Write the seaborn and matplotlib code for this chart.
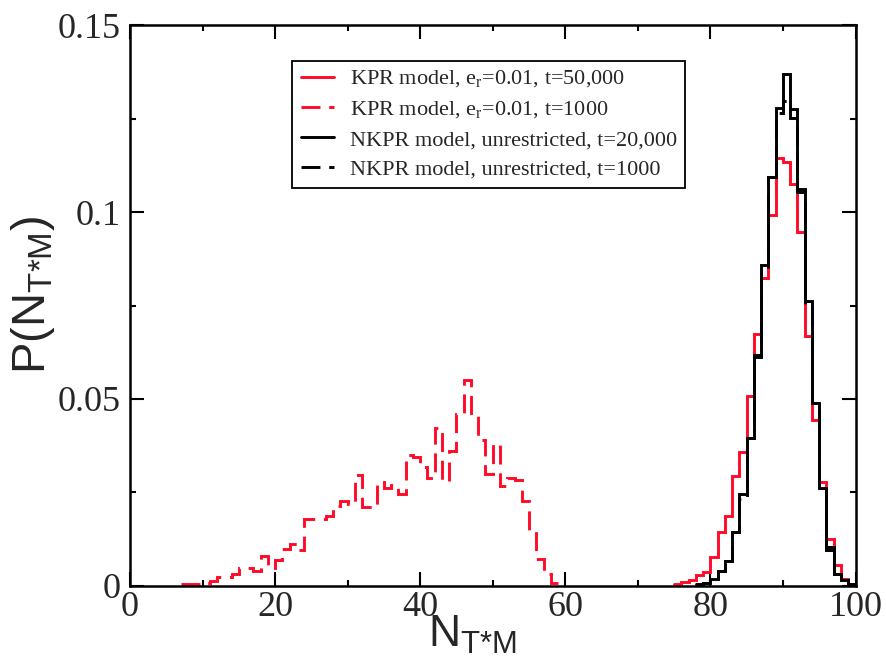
import numpy as np
import pandas as pd
import matplotlib
matplotlib.use("Agg")
import matplotlib.pyplot as plt
import seaborn as sns
from matplotlib.ticker import MultipleLocator, FixedLocator, FixedFormatter

# ---------------- data (unit-width bins, given by first left edge) ----------------
kpr_long_first_bin = 75          # KPR model, e_r=0.01, t=50,000
kpr_long_values = [0.0005, 0.0010, 0.0015, 0.0027, 0.0036, 0.0076, 0.0143, 0.0185,
                   0.0294, 0.0358, 0.0508, 0.0675, 0.0824, 0.0992, 0.1145, 0.1134,
                   0.1075, 0.0947, 0.0668, 0.0444, 0.0277, 0.0125, 0.0054, 0.0018,
                   0.0005]

kpr_short_first_bin = 7          # KPR model, e_r=0.01, t=1000
kpr_short_values = [0.0003, 0.0004, 0.0005, 0.0007, 0.0013, 0.0022, 0.0022, 0.0030,
                    0.0047, 0.0047, 0.0039, 0.0080, 0.0047, 0.0069, 0.0098, 0.0112,
                    0.0095, 0.0177, 0.0179, 0.0177, 0.0186, 0.0213, 0.0226, 0.0218,
                    0.0295, 0.0210, 0.0210, 0.0277, 0.0262, 0.0268, 0.0244, 0.0350,
                    0.0343, 0.0317, 0.0287, 0.0422, 0.0280, 0.0360, 0.0459, 0.0551,
                    0.0461, 0.0390, 0.0300, 0.0378, 0.0266, 0.0287, 0.0282, 0.0227,
                    0.0146, 0.0071, 0.0032, 0.0008]

nkpr_long_first_bin = 78         # NKPR model, unrestricted, t=20,000
nkpr_long_values = [0.0003, 0.0008, 0.0018, 0.0040, 0.0067, 0.0143, 0.0246, 0.0394,
                    0.0612, 0.0858, 0.1095, 0.1279, 0.1371, 0.1277, 0.1062, 0.0762,
                    0.0488, 0.0260, 0.0103, 0.0031, 0.0015, 0.0003]

nkpr_short_first_bin = 78        # NKPR model, unrestricted, t=1000
nkpr_short_values = [0.0003, 0.0008, 0.0018, 0.0040, 0.0067, 0.0143, 0.0233, 0.0394,
                     0.0618, 0.0842, 0.1095, 0.1265, 0.1299, 0.1252, 0.1055, 0.0753,
                     0.0488, 0.0260, 0.0096, 0.0031, 0.0015, 0.0003]

legend_labels = [r"KPR model, e$_\mathregular{r}$=0.01, t=50,000",
                 r"KPR model, e$_\mathregular{r}$=0.01, t=1000",
                 "NKPR model, unrestricted, t=20,000",
                 "NKPR model, unrestricted, t=1000"]

x_tick_values = [0, 20, 40, 60, 80, 100]
x_tick_labels = ["0", "20", "40", "60", "80", "100"]
y_tick_values = [0, 0.05, 0.1, 0.15]
y_tick_labels = ["0", "0.05", "0.1", "0.15"]

# ---------------- style ----------------
sns.set_style("ticks")
plt.rcParams["font.family"] = ["Liberation Serif", "DejaVu Serif"]
plt.rcParams["mathtext.fontset"] = "custom"
plt.rcParams["mathtext.rm"] = "Liberation Sans"

RED = "#ff0a28"
BLACK = "#000000"
LW = 2.1
DASH = (0, (6.5, 3.0))

fig = plt.figure(figsize=(8.86, 6.71), dpi=100)
ax = fig.add_axes([0.1467, 0.1274, 0.8189, 0.8346])


def step_hist(first_bin, values, **kw):
    edges = [float(first_bin + i) for i in range(len(values) + 1)]
    df = pd.DataFrame({"n": [e + 0.5 for e in edges[:-1]], "p": values})
    sns.histplot(data=df, x="n", weights="p", bins=edges, stat="count",
                 element="step", fill=False, ax=ax, **kw)
    return ax.lines[-1]


handles = []
handles.append(step_hist(kpr_long_first_bin, kpr_long_values, color=RED,
                         linewidth=LW, solid_joinstyle="miter"))
handles.append(step_hist(kpr_short_first_bin, kpr_short_values, color=RED,
                         linewidth=LW, linestyle=DASH, dash_joinstyle="miter"))
handles.append(step_hist(nkpr_short_first_bin, nkpr_short_values, color=BLACK,
                         linewidth=LW, linestyle=DASH, dash_joinstyle="miter"))
handles.append(step_hist(nkpr_long_first_bin, nkpr_long_values, color=BLACK,
                         linewidth=LW, solid_joinstyle="miter"))
handles = [handles[0], handles[1], handles[3], handles[2]]

ax.set_xlim(0, 100)
ax.set_ylim(0, 0.15)

ax.xaxis.set_major_locator(FixedLocator(x_tick_values))
ax.xaxis.set_major_formatter(FixedFormatter(x_tick_labels))
ax.yaxis.set_major_locator(FixedLocator(y_tick_values))
ax.yaxis.set_major_formatter(FixedFormatter(y_tick_labels))
ax.xaxis.set_minor_locator(MultipleLocator(10))
ax.yaxis.set_minor_locator(MultipleLocator(0.025))

ax.tick_params(which="both", direction="in", top=True, right=True,
               width=1.5, color="black", labelsize=26)
ax.tick_params(axis="x", which="major", length=10, pad=4)
ax.tick_params(axis="y", which="major", length=10, pad=7)
ax.tick_params(which="minor", length=4.5)

for s in ax.spines.values():
    s.set_linewidth(1.8)
    s.set_color("black")
    s.set_visible(True)

ax.set_xlabel(r"N$_\mathregular{T\text{*}M}$", fontfamily="Liberation Sans", fontsize=32)
ax.set_ylabel(r"P(N$_\mathregular{T\text{*}M}$)", fontfamily="Liberation Sans", fontsize=34)
ax.xaxis.set_label_coords(0.472, -0.05)
ax.yaxis.set_label_coords(-0.1, 0.52)

leg = ax.legend(handles, legend_labels, loc="upper left",
                bbox_to_anchor=(0.224, 0.937), borderaxespad=0,
                fontsize=16, frameon=True, fancybox=False, framealpha=1,
                edgecolor="black", handlelength=1.5, handletextpad=0.7,
                borderpad=0.37, labelspacing=0.41)
leg.get_frame().set_linewidth(1.3)

fig.savefig("out.png", dpi=100)
